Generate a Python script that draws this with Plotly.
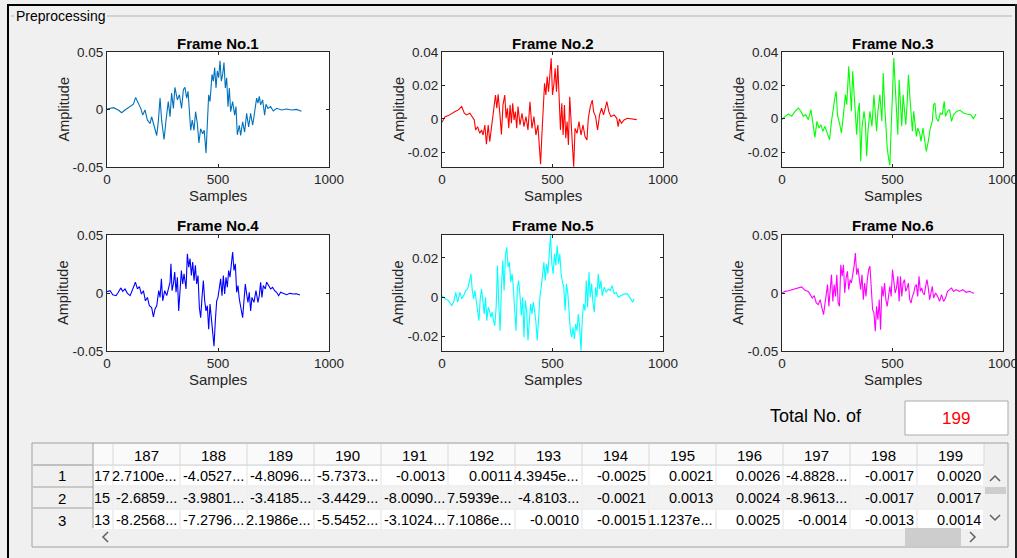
import plotly.graph_objects as go

W, H = 1017, 558

# ---------------- data ----------------
frame1_x = [0,29,51,66,81,104,119,129,141,152,161,171,182,194,201,212,224,231,239,246,257,266,276,284,291,299,306,317,326,336,344,351,359,365,371,377,384,392,399,407,414,422,431,438,446,452,458,464,473,479,485,491,497,503,509,515,521,527,533,539,545,551,557,566,575,581,587,596,602,611,620,629,638,647,656,662,668,674,680,686,692,701,710,716,725,737,749,764,786,809,831,854,876]
frame1_amp_e3 = [0.4,1.6,-0.4,-2.8,-0.4,2.5,4.6,10.5,5.5,1.0,-4.9,-0.4,-9.3,-12.2,-6.3,-13.7,-22.6,-10.8,9.9,-9.3,-26.1,-9.3,6.9,-6.3,14.3,1.0,19.3,8.4,12.8,1.0,17.3,19.3,9.9,15.8,1.6,-18.1,-9.3,-18.1,-1.9,-12.2,-29.1,-16.7,-21.1,-18.1,-37.9,-16.7,12.8,6.9,30.5,24.6,36.4,18.7,33.5,27.6,42.3,24.6,30.5,40.9,18.7,27.6,2.5,18.7,-1.9,6.9,-4.9,2.5,-22.0,-13.7,-22.6,-10.8,-19.6,-3.4,-15.2,-3.4,-13.7,-6.3,2.5,9.9,5.5,11.4,4.0,8.4,-4.9,4.6,1.0,2.5,-1.3,1.0,-0.4,0.4,-0.4,0.1,-1.6]

frame2_x = [0,14,29,44,59,74,89,101,111,126,137,146,152,161,171,179,186,194,201,209,216,227,233,242,248,254,261,269,276,284,290,296,302,308,314,320,326,332,338,344,353,362,371,380,389,398,407,416,425,434,440,446,452,458,464,470,476,482,488,494,500,506,512,518,524,530,536,542,548,554,560,566,572,578,584,590,596,602,611,620,629,638,647,656,662,671,680,686,695,704,713,722,731,740,746,755,764,779,791,797,803,812,824,839,854,869,881]
frame2_amp_e3 = [-2.0,1.4,2.0,3.4,4.4,5.4,7.4,3.4,2.4,3.4,1.4,-0.6,-6.6,-4.6,-8.6,-6.6,-9.6,-3.6,-15.1,-3.6,-13.5,-1.6,5.4,14.3,6.4,14.7,4.4,-9.2,8.4,14.3,0.4,6.4,-5.6,8.4,-2.6,9.4,-0.6,4.4,-5.6,7.4,-3.6,3.4,-4.6,1.4,-6.6,10.3,-5.6,1.4,-9.6,-3.6,-15.5,-27.1,-9.6,10.3,21.3,14.3,25.3,16.3,29.3,36.2,14.3,20.3,30.2,16.3,32.2,8.4,-6.6,9.4,-9.6,8.4,-11.5,-1.6,-15.5,13.3,-5.6,-15.5,-28.5,-5.6,-8.6,-1.6,-9.6,-3.6,-10.5,-12.5,0.4,7.4,11.3,4.4,1.4,-6.6,2.4,6.4,2.4,7.4,10.3,4.4,1.4,2.4,0.4,-4.6,0.0,-2.6,-0.6,0.4,0.0,0.0,-0.4]

frame3_x = [0,14,29,44,59,74,86,96,107,119,131,140,149,158,167,176,185,194,206,215,224,231,239,245,251,260,269,278,287,293,302,308,314,320,326,332,338,344,350,356,362,371,377,383,389,398,407,416,422,428,434,443,452,458,464,470,476,482,488,494,500,506,512,518,524,530,536,542,548,554,560,566,572,578,584,590,596,602,608,614,623,629,638,644,653,662,671,680,686,692,698,707,716,725,734,740,749,758,767,776,791,806,821,836,854,866,878]
frame3_amp_e3 = [-0.6,1.4,2.8,1.4,4.4,6.4,4.4,1.4,2.4,-0.6,5.4,-2.6,-11.2,-1.6,-5.6,-3.6,-7.6,-4.6,-8.6,-12.6,-1.6,6.4,12.4,16.4,2.4,-2.6,-8.6,2.4,14.4,8.4,31.4,18.4,4.4,28.4,16.4,2.4,-9.6,4.4,9.4,-25.6,-5.6,4.4,-1.6,-22.6,-7.6,4.4,-4.6,14.4,1.4,-7.6,4.4,14.4,-1.6,27.4,9.4,-5.6,-17.6,-23.6,-28.0,-5.6,18.4,36.4,20.4,2.4,-9.6,23.4,4.4,-4.6,14.4,4.4,-3.6,8.4,26.4,14.4,0.4,-7.6,4.4,-3.6,-10.6,-5.6,-8.6,-13.6,-5.6,-11.6,-19.6,-13.6,-5.6,-1.6,8.4,9.4,0.4,-1.6,3.4,2.4,10.4,1.4,4.4,5.4,-1.6,2.4,4.4,5.0,3.4,2.8,2.4,0.0,2.8]

frame4_x = [0,14,26,41,51,62,71,81,92,104,113,119,128,137,146,155,164,173,182,191,201,209,216,224,233,239,245,251,260,269,278,284,288,293,299,305,311,317,323,329,335,341,347,356,362,368,374,380,386,392,398,404,410,416,422,428,434,440,446,452,458,464,470,476,482,488,494,500,506,512,518,524,530,536,542,548,554,560,566,572,578,584,590,596,605,611,617,623,629,635,641,647,653,662,671,680,686,692,698,704,713,719,728,737,746,755,764,773,782,794,809,824,839,854,869]
frame4_amp_e3 = [1.2,2.0,-1.5,-2.3,0.6,4.4,1.5,3.5,-0.3,-2.3,2.0,4.9,9.3,3.5,5.5,-0.9,2.0,-6.7,-3.8,-11.0,-12.5,-20.6,-13.9,-11.0,2.0,-3.8,12.2,-6.7,2.0,-2.3,4.9,9.3,25.2,2.0,7.8,18.0,0.6,13.6,-15.4,3.5,19.4,7.8,16.5,3.5,33.9,22.3,29.6,15.1,26.7,10.7,23.8,7.8,15.1,-12.5,-21.2,-3.8,10.7,-6.7,-15.4,-11.0,-31.3,-9.6,-24.1,-32.8,-45.8,-24.1,-6.7,-3.8,3.5,12.2,-2.3,15.1,-0.9,13.6,4.9,19.4,13.6,25.2,35.4,19.4,25.2,0.6,6.4,-5.2,-13.9,-21.2,-6.7,7.8,-0.9,-8.1,0.6,-15.4,-3.8,-8.1,2.0,-8.1,-2.3,9.3,-3.8,6.4,3.5,9.3,6.4,3.5,4.9,2.0,0.6,-2.3,0.6,-0.3,-1.5,-0.3,-0.9,-0.6,-1.7]

frame5_x = [0,14,29,44,53,62,71,81,89,98,107,116,125,131,137,143,149,155,161,167,173,179,185,191,197,203,209,215,221,227,233,239,245,251,257,263,269,275,281,287,293,299,305,311,317,323,329,335,341,347,353,359,365,371,377,383,389,395,401,407,413,419,425,431,437,443,449,455,461,467,473,479,485,491,497,503,509,515,521,527,533,539,545,551,557,563,569,575,581,587,593,599,605,611,617,623,629,635,641,647,653,659,665,671,677,683,689,695,701,707,713,719,725,734,743,752,761,770,779,788,797,809,824,839,854,863,869]
frame5_amp_e3 = [0.8,-0.8,-1.7,-4.2,-2.5,2.5,-2.5,2.5,-0.8,0.8,3.4,4.2,8.5,11.9,3.4,-0.8,3.4,-2.5,-5.9,-11.9,-0.8,4.2,-1.7,-8.5,0.0,-11.9,-5.1,-6.8,-10.2,-7.6,-11.9,-14.4,-5.1,16.1,-3.4,-17.0,5.1,18.6,3.4,21.2,25.4,15.3,17.8,7.6,11.9,5.1,-6.8,-17.0,5.1,8.5,0.8,-9.3,0.0,-20.3,-1.7,-6.8,-22.0,-11.9,-3.4,-8.5,-2.5,-6.8,-12.7,-22.0,-6.8,0.0,5.1,11.9,17.8,8.5,17.0,11.9,21.2,31.4,17.0,11.9,22.0,16.1,26.3,17.0,22.0,11.9,7.6,5.1,-6.8,6.8,2.5,-8.5,-17.0,-20.3,-15.3,-21.2,-13.6,-17.0,-8.5,-15.3,-27.1,-10.2,-3.4,-6.8,8.5,-5.1,12.7,0.0,6.8,-2.5,-7.6,5.1,0.0,11.9,4.2,8.5,0.8,5.1,2.5,4.2,3.4,5.9,1.7,2.5,0.0,0.8,1.7,1.7,-0.8,-2.5,-0.8]

frame6_x = [0,14,29,44,59,74,89,104,119,128,137,146,155,164,173,179,188,194,200,206,212,218,224,230,236,242,248,254,260,266,272,278,284,290,296,302,308,314,320,326,332,338,344,350,356,362,368,374,380,386,392,398,404,410,416,422,428,434,440,446,452,458,464,470,476,482,488,494,500,506,512,518,524,530,536,542,548,554,560,566,572,578,584,590,596,602,608,614,620,626,632,638,644,650,656,662,668,674,680,686,695,704,713,722,731,740,749,758,767,776,788,803,818,833,848,863,869]
frame6_amp_e3 = [0.0,1.4,2.0,2.9,3.4,4.3,5.2,2.3,1.4,-1.4,-4.3,-2.3,-8.6,-10.0,-5.7,-11.5,-18.7,-10.0,-2.9,7.2,-11.5,0.0,15.8,-7.2,7.2,-2.9,15.8,-8.6,-11.5,24.4,14.4,24.4,0.0,12.9,18.7,2.9,11.5,8.6,14.4,23.0,34.4,15.8,21.5,10.0,2.9,15.8,-5.7,8.6,-2.9,11.5,20.1,23.0,5.7,-14.4,-17.2,-33.0,-11.5,-23.0,-5.7,-31.6,5.7,-2.9,8.6,-5.7,-11.5,0.0,5.7,-2.9,20.1,10.0,0.0,4.3,14.4,-7.2,14.4,-2.9,8.6,11.5,1.4,4.3,8.6,-5.7,-8.6,-2.9,0.0,5.7,7.2,-2.9,14.4,1.4,4.3,0.0,-1.4,5.7,11.5,4.3,-5.7,0.0,5.7,-4.3,0.0,-2.9,-7.2,-1.4,-7.2,-4.3,1.4,2.9,4.3,1.4,2.9,1.4,2.9,0.6,1.4,0.0,0.0]

frame_titles = ["Frame No.1", "Frame No.2", "Frame No.3", "Frame No.4", "Frame No.5", "Frame No.6"]
frame_colors = ["#0072BD", "#FF0000", "#00FF00", "#0000FF", "#00FFFF", "#FF00FF"]
y_ranges = [[-0.05, 0.05], [-0.0287, 0.04], [-0.029, 0.04], [-0.05, 0.05], [-0.0273, 0.0316], [-0.05, 0.05]]
y_ticks = [[-0.05, 0, 0.05], [-0.02, 0, 0.02, 0.04], [-0.02, 0, 0.02, 0.04],
           [-0.05, 0, 0.05], [-0.02, 0, 0.02], [-0.05, 0, 0.05]]
y_ticktext = [["-0.05", "0", "0.05"], ["-0.02", "0", "0.02", "0.04"], ["-0.02", "0", "0.02", "0.04"],
              ["-0.05", "0", "0.05"], ["-0.02", "0", "0.02"], ["-0.05", "0", "0.05"]]
x_ticks = [0, 500, 1000]
x_ticktext = ["0", "500", "1000"]

col_headers = ["187", "188", "189", "190", "191", "192", "193", "194", "195", "196", "197", "198", "199"]
row_labels = ["1", "2", "3"]
partial_col = ["17", "15", "13"]
row1_vals = ["2.7100e...", "-4.0527...", "-4.8096...", "-5.7373...", "-0.0013", "0.0011", "4.3945e...",
             "-0.0025", "0.0021", "0.0026", "-4.8828...", "-0.0017", "0.0020"]
row2_vals = ["-2.6859...", "-3.9801...", "-3.4185...", "-3.4429...", "-8.0090...", "7.5939e...", "-4.8103...",
             "-0.0021", "0.0013", "0.0024", "-8.9613...", "-0.0017", "0.0017"]
row3_vals = ["-8.2568...", "-7.2796...", "2.1986e...", "-5.5452...", "-3.1024...", "7.1086e...", "-0.0010",
             "-0.0015", "1.1237e...", "0.0025", "-0.0014", "-0.0013", "0.0014"]
total_label = "Total No. of"
total_value = "199"

# ---------------- layout helpers ----------------
FONT = "Liberation Sans, Arial, sans-serif"
AXC = "#262626"
BG = "#F0F0F0"

def px(x):
    return x / W

def py(y):
    return 1 - y / H

annotations = []
shapes = []

def ann(text, x, y, size=13, color="#000000", xanchor="center", yanchor="middle", bold=False, angle=0):
    annotations.append(dict(
        text=("<b>%s</b>" % text) if bold else text,
        x=px(x), y=py(y), xref="paper", yref="paper", showarrow=False,
        xanchor=xanchor, yanchor=yanchor, textangle=angle,
        font=dict(family=FONT, size=size, color=color)))

def rect(x0, y0, x1, y1, fill=None, line=None, lw=1):
    shapes.append(dict(type="rect", xref="paper", yref="paper",
                       x0=px(x0), x1=px(x1), y0=py(y1), y1=py(y0),
                       fillcolor=fill if fill else "rgba(0,0,0,0)",
                       line=dict(color=line if line else "rgba(0,0,0,0)", width=lw if line else 0)))

def seg(x0, y0, x1, y1, color, lw=1):
    shapes.append(dict(type="line", xref="paper", yref="paper",
                       x0=px(x0), x1=px(x1), y0=py(y0), y1=py(y1),
                       line=dict(color=color, width=lw)))

def path(points, color, lw=1.5):
    d = "M " + " L ".join("%f,%f" % (px(a), py(b)) for a, b in points)
    shapes.append(dict(type="path", xref="paper", yref="paper", path=d,
                       line=dict(color=color, width=lw)))

# ---------------- figure ----------------
fig = go.Figure()

frames_x = [frame1_x, frame2_x, frame3_x, frame4_x, frame5_x, frame6_x]
frames_y = [frame1_amp_e3, frame2_amp_e3, frame3_amp_e3, frame4_amp_e3, frame5_amp_e3, frame6_amp_e3]

cols_px = [(107, 329), (442, 663), (782, 1003)]
rows_px = [(52, 167), (235, 351)]

layout_axes = {}
for i in range(6):
    r, c = divmod(i, 3)
    x0, x1 = cols_px[c]
    y0, y1 = rows_px[r]
    n = "" if i == 0 else str(i + 1)
    fig.add_trace(go.Scatter(
        x=frames_x[i], y=[v / 1000 for v in frames_y[i]],
        mode="lines", line=dict(color=frame_colors[i], width=1.1),
        xaxis="x" + n, yaxis="y" + n, showlegend=False, hoverinfo="skip"))
    layout_axes["xaxis" + n] = dict(
        domain=[px(x0), px(x1)], anchor="y" + n, range=[0, 1000],
        tickvals=x_ticks, ticktext=x_ticktext, ticks="inside", ticklen=3,
        tickcolor=AXC, showline=True, linecolor=AXC, linewidth=1, mirror="ticks",
        showgrid=False, zeroline=False, automargin=False, ticklabeloverflow="allow",
        tickfont=dict(family=FONT, size=13.5, color=AXC))
    layout_axes["yaxis" + n] = dict(
        domain=[py(y1), py(y0)], anchor="x" + n, range=y_ranges[i],
        tickvals=y_ticks[i], ticktext=y_ticktext[i], ticks="inside", ticklen=3,
        tickcolor=AXC, showline=True, linecolor=AXC, linewidth=1, mirror="ticks",
        showgrid=False, zeroline=False, automargin=False, ticklabeloverflow="allow",
        tickfont=dict(family=FONT, size=13.5, color=AXC))
    cx = (x0 + x1) / 2
    ann(frame_titles[i], cx, y0 - 9, size=15, color="#000000", bold=True)
    ann("Amplitude", x0 - 44, (y0 + y1) / 2, size=14.5, color=AXC, angle=-90)
    ann("Samples", cx, y1 + 28, size=15, color=AXC)

# ---------------- window / group box ----------------
seg(7, 5, 1017, 5, "#000000", 2)
seg(8, 4, 8, 558, "#000000", 2)
seg(1016, 4, 1016, 558, "#202020", 2)
seg(11, 16, 14, 16, "#B4B4B4", 1)
seg(107, 16, 1012, 16, "#B4B4B4", 1)
ann("Preprocessing", 14, 16, size=14, color="#000000", xanchor="left")

# ---------------- Total No. of ----------------
ann(total_label, 768, 416, size=18, color="#000000", xanchor="left")
rect(905, 401, 1008, 435, fill="#FFFFFF", line="#ABABAB")
ann(total_value, 956, 418, size=17, color="#FF0000")

# ---------------- table ----------------
TX0, TY0, TX1, TY1 = 32, 443, 1008, 547
rect(TX0, TY0, TX1, TY1, fill=BG, line="#A0A0A0")
col_left = 113
col_w = 67
row_tops = [465, 487, 509]
row_h = 21
# header row
rect(93, TY0 + 1, 984, 465, fill="#FAFAFA")
seg(93, 443, 93, 528, "#A0A0A0", 1)
seg(113, 444, 113, 465, "#D8D8D8", 1)
for k in range(len(col_headers)):
    xl = col_left + k * col_w
    seg(xl + col_w, 444, xl + col_w, 465, "#D8D8D8", 1)
    ann(col_headers[k], xl + col_w / 2, 455, size=15, color="#000000")
seg(32, 465, 984, 465, "#D0D0D0", 1)
# row header lines
for yl in [465, 487, 508]:
    seg(33, yl, 93, yl, "#A0A0A0", 1)
rows = [row1_vals, row2_vals, row3_vals]
for r in range(3):
    yt = row_tops[r]
    cy = yt + row_h / 2 + 0.5
    ann(row_labels[r], 62, cy, size=15, color="#000000")
    fill = "#FFFFFF" if r != 1 else "#F2F2F2"
    rect(94, yt + 1, 112, yt + row_h - 1, fill=fill)
    ann(partial_col[r], 112, cy, size=14.5, color="#000000", xanchor="right")
    for k in range(len(col_headers)):
        xl = col_left + k * col_w
        rect(xl + 1, yt + 1, xl + col_w - 1, yt + row_h - 1, fill=fill)
        ann(rows[r][k], xl + col_w - 1, cy, size=14.5, color="#000000", xanchor="right")
# scrollbars
rect(985, 487, 1006, 494, fill="#CDCDCD")
path([(990, 481), (995, 476), (1000, 481)], "#606060", 1.5)
path([(990, 515), (995, 520), (1000, 515)], "#606060", 1.5)
rect(905, 528, 961, 546, fill="#CDCDCD")
path([(108, 532), (103, 537), (108, 542)], "#606060", 1.5)
path([(970, 532), (975, 537), (970, 542)], "#606060", 1.5)

fig.update_layout(
    width=W, height=H, autosize=False,
    margin=dict(l=0, r=0, t=0, b=0, pad=0, autoexpand=False),
    paper_bgcolor=BG, plot_bgcolor="#FFFFFF",
    annotations=annotations, shapes=shapes,
    **layout_axes)

fig.write_html(
    "out.html",
    post_script="document.body.style.margin='0';document.body.style.overflow='hidden';",
)
